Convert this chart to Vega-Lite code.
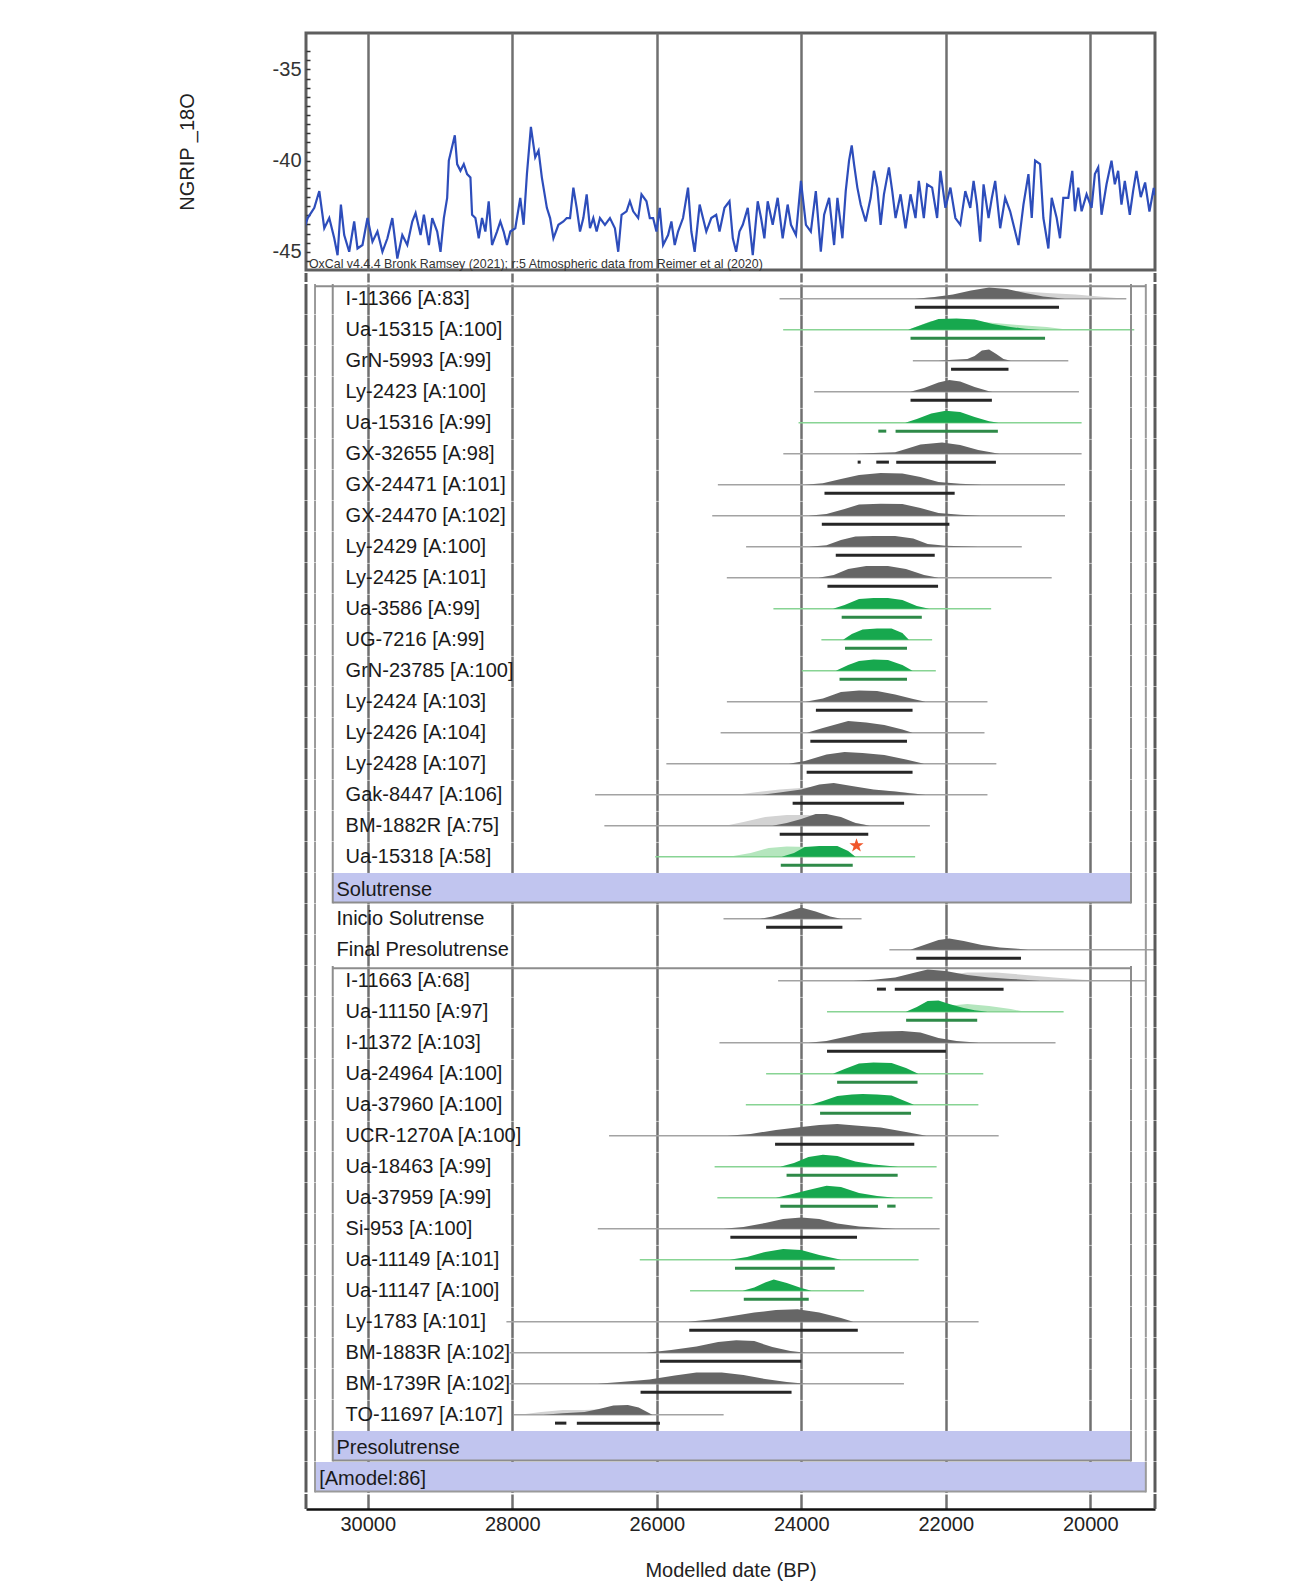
{
"$schema": "https://vega.github.io/schema/vega-lite/v6.json",
"background": "white",
"padding": {"left": 175, "top": 31, "right": 10, "bottom": 60},
"spacing": -3,
"config": {
  "view": {"stroke": null},
  "font": "Liberation Sans",
  "axisX": {"grid": true, "labels": false, "ticks": false, "domain": false, "tickCount": 6, "gridColor": "#707070", "gridWidth": 2.5, "zindex": 1}
},
"vconcat": [
{
 "width": 849, "height": 237,
 "view": {"stroke": "#5e5e5e", "strokeWidth": 3},
 "layer": [
  {"data": {"values": [
{"date":30869,"d18O":-43.6},{"date":30832,"d18O":-43.15},{"date":30740,"d18O":-42.59},{"date":30671,"d18O":-41.67},{"date":30602,"d18O":-43.71},{"date":30533,"d18O":-43.15},{"date":30464,"d18O":-44.26},{"date":30418,"d18O":-45.19},{"date":30372,"d18O":-42.41},{"date":30326,"d18O":-44.08},{"date":30257,"d18O":-45.0},{"date":30188,"d18O":-43.34},{"date":30142,"d18O":-44.82},{"date":30073,"d18O":-44.63},{"date":30004,"d18O":-43.15},{"date":29935,"d18O":-44.45},{"date":29866,"d18O":-43.89},{"date":29797,"d18O":-45.0},{"date":29728,"d18O":-44.26},{"date":29660,"d18O":-43.15},{"date":29591,"d18O":-45.37},{"date":29522,"d18O":-44.08},{"date":29453,"d18O":-44.63},{"date":29384,"d18O":-43.34},{"date":29338,"d18O":-42.87},{"date":29269,"d18O":-44.08},{"date":29223,"d18O":-42.97},{"date":29154,"d18O":-44.63},{"date":29108,"d18O":-43.15},{"date":29039,"d18O":-43.89},{"date":28993,"d18O":-45.0},{"date":28947,"d18O":-43.15},{"date":28901,"d18O":-42.04},{"date":28878,"d18O":-40.0},{"date":28795,"d18O":-38.61},{"date":28763,"d18O":-40.19},{"date":28717,"d18O":-40.56},{"date":28671,"d18O":-40.19},{"date":28625,"d18O":-40.74},{"date":28579,"d18O":-40.93},{"date":28556,"d18O":-42.97},{"date":28510,"d18O":-43.15},{"date":28464,"d18O":-44.26},{"date":28418,"d18O":-43.15},{"date":28372,"d18O":-43.89},{"date":28326,"d18O":-42.23},{"date":28280,"d18O":-44.63},{"date":28211,"d18O":-43.89},{"date":28165,"d18O":-43.34},{"date":28119,"d18O":-43.89},{"date":28073,"d18O":-44.63},{"date":28027,"d18O":-43.89},{"date":27958,"d18O":-43.71},{"date":27889,"d18O":-42.04},{"date":27843,"d18O":-43.52},{"date":27797,"d18O":-40.74},{"date":27742,"d18O":-38.15},{"date":27682,"d18O":-39.82},{"date":27636,"d18O":-39.45},{"date":27590,"d18O":-40.93},{"date":27521,"d18O":-42.59},{"date":27476,"d18O":-43.15},{"date":27430,"d18O":-44.26},{"date":27361,"d18O":-43.52},{"date":27292,"d18O":-43.34},{"date":27246,"d18O":-43.15},{"date":27200,"d18O":-43.15},{"date":27154,"d18O":-41.48},{"date":27108,"d18O":-42.59},{"date":27062,"d18O":-43.89},{"date":27016,"d18O":-43.15},{"date":26970,"d18O":-41.85},{"date":26924,"d18O":-43.71},{"date":26878,"d18O":-43.15},{"date":26832,"d18O":-43.89},{"date":26786,"d18O":-43.15},{"date":26717,"d18O":-43.52},{"date":26648,"d18O":-43.15},{"date":26579,"d18O":-43.71},{"date":26533,"d18O":-45.0},{"date":26487,"d18O":-42.97},{"date":26418,"d18O":-42.78},{"date":26372,"d18O":-42.23},{"date":26326,"d18O":-42.78},{"date":26257,"d18O":-43.15},{"date":26211,"d18O":-41.85},{"date":26142,"d18O":-42.23},{"date":26096,"d18O":-43.15},{"date":26050,"d18O":-43.15},{"date":26004,"d18O":-43.89},{"date":25958,"d18O":-42.59},{"date":25912,"d18O":-44.63},{"date":25843,"d18O":-44.08},{"date":25797,"d18O":-43.34},{"date":25751,"d18O":-44.63},{"date":25705,"d18O":-43.89},{"date":25636,"d18O":-43.15},{"date":25567,"d18O":-41.48},{"date":25521,"d18O":-43.89},{"date":25475,"d18O":-45.0},{"date":25406,"d18O":-42.41},{"date":25360,"d18O":-43.15},{"date":25314,"d18O":-43.89},{"date":25245,"d18O":-43.15},{"date":25177,"d18O":-42.97},
{"date":25131,"d18O":-43.89},{"date":25062,"d18O":-42.59},{"date":24993,"d18O":-42.23},{"date":24947,"d18O":-44.26},{"date":24901,"d18O":-45.0},{"date":24855,"d18O":-43.89},{"date":24809,"d18O":-43.52},{"date":24740,"d18O":-42.59},{"date":24671,"d18O":-45.19},{"date":24602,"d18O":-42.23},{"date":24556,"d18O":-43.15},{"date":24510,"d18O":-44.26},{"date":24464,"d18O":-42.23},{"date":24395,"d18O":-43.52},{"date":24326,"d18O":-42.04},{"date":24257,"d18O":-44.26},{"date":24188,"d18O":-42.41},{"date":24142,"d18O":-43.52},{"date":24073,"d18O":-44.08},{"date":24004,"d18O":-41.11},{"date":23935,"d18O":-43.52},{"date":23867,"d18O":-43.89},{"date":23798,"d18O":-41.67},{"date":23729,"d18O":-45.0},{"date":23683,"d18O":-42.97},{"date":23614,"d18O":-42.04},{"date":23545,"d18O":-44.63},{"date":23499,"d18O":-42.04},{"date":23430,"d18O":-44.26},{"date":23384,"d18O":-41.67},{"date":23338,"d18O":-40.0},{"date":23301,"d18O":-39.17},{"date":23269,"d18O":-40.19},{"date":23223,"d18O":-41.48},{"date":23177,"d18O":-42.41},{"date":23108,"d18O":-43.34},{"date":23039,"d18O":-42.04},{"date":22993,"d18O":-40.56},{"date":22947,"d18O":-41.48},{"date":22901,"d18O":-43.52},{"date":22855,"d18O":-41.85},{"date":22786,"d18O":-40.37},{"date":22740,"d18O":-41.67},{"date":22694,"d18O":-43.15},{"date":22625,"d18O":-41.85},{"date":22556,"d18O":-43.71},{"date":22487,"d18O":-41.85},{"date":22418,"d18O":-43.15},{"date":22372,"d18O":-41.11},{"date":22303,"d18O":-43.15},{"date":22257,"d18O":-41.3},{"date":22188,"d18O":-41.48},{"date":22119,"d18O":-43.15},{"date":22073,"d18O":-40.56},{"date":22004,"d18O":-42.59},{"date":21935,"d18O":-41.48},{"date":21866,"d18O":-43.15},{"date":21798,"d18O":-43.52},{"date":21729,"d18O":-41.67},{"date":21660,"d18O":-42.59},{"date":21614,"d18O":-41.11},{"date":21568,"d18O":-42.41},{"date":21522,"d18O":-44.45},{"date":21476,"d18O":-41.3},{"date":21407,"d18O":-43.15},{"date":21361,"d18O":-42.04},{"date":21315,"d18O":-41.11},{"date":21246,"d18O":-43.71},{"date":21177,"d18O":-42.04},{"date":21108,"d18O":-42.78},{"date":21039,"d18O":-43.89},{"date":20993,"d18O":-44.63},{"date":20924,"d18O":-42.41},{"date":20855,"d18O":-40.74},{"date":20809,"d18O":-43.15},{"date":20763,"d18O":-40.0},{"date":20694,"d18O":-40.19},{"date":20648,"d18O":-43.15},{"date":20579,"d18O":-44.82},{"date":20533,"d18O":-42.04},{"date":20464,"d18O":-43.15},{"date":20418,"d18O":-44.26},{"date":20372,"d18O":-42.04},{"date":20303,"d18O":-42.04},{"date":20248,"d18O":-40.56},{"date":20211,"d18O":-42.78},{"date":20165,"d18O":-41.48},{"date":20119,"d18O":-42.78},{"date":20050,"d18O":-41.85},{"date":19981,"d18O":-42.59},{"date":19935,"d18O":-40.74},{"date":19889,"d18O":-40.37},{"date":19843,"d18O":-42.97},{"date":19774,"d18O":-41.3},{"date":19705,"d18O":-40.0},{"date":19659,"d18O":-41.3},{"date":19613,"d18O":-40.56},{"date":19567,"d18O":-42.41},{"date":19521,"d18O":-41.11},{"date":19452,"d18O":-42.97},{"date":19406,"d18O":-41.67},{"date":19360,"d18O":-40.56},{"date":19300,"d18O":-42.0},{"date":19240,"d18O":-41.2},{"date":19180,"d18O":-42.8},{"date":19120,"d18O":-41.5},{"date":19103,"d18O":-41.9}
  ]},
   "mark": {"type": "line", "color": "#2d4dbb", "strokeWidth": 2.2, "clip": true},
   "encoding": {
     "x": {"field": "date", "type": "quantitative", "scale": {"domain": [19103, 30855], "reverse": true, "nice": false, "zero": false}, "title": null},
     "y": {"field": "d18O", "type": "quantitative", "scale": {"domain": [-46, -33], "nice": false, "zero": false}, "title": "NGRIP _18O",
       "axis": {"values": [-45.5,-45,-44.5,-44,-43.5,-43,-42.5,-42,-41.5,-41,-40.5,-40,-39.5,-39,-38.5,-38,-37.5,-37,-36.5,-36,-35.5,-35,-34.5,-34],
        "labelExpr": "datum.value % 5 === 0 ? '' + datum.value : ''", "ticks": true, "tickSize": -4, "tickColor": "#333", "tickWidth": 1.5, "domain": false, "grid": false,
        "labelFontSize": 20, "labelColor": "#333", "labelPadding": 9, "labelOverlap": false, "labelFlush": false,
        "titleFontSize": 20, "titleFontWeight": "normal", "titleColor": "#222", "titlePadding": 75}}
   }},
  {"data": {"values": [{"date": 30814, "d18O": -45.67, "note": "OxCal v4.4.4 Bronk Ramsey (2021); r:5 Atmospheric data from Reimer et al (2020)"}]},
   "mark": {"type": "text", "align": "left", "baseline": "middle", "fontSize": 12.4, "color": "#333"},
   "encoding": {
     "x": {"field": "date", "type": "quantitative", "scale": {"domain": [19103, 30855], "reverse": true, "nice": false, "zero": false}, "title": null},
     "y": {"field": "d18O", "type": "quantitative", "scale": {"domain": [-46, -33], "nice": false, "zero": false}, "title": "NGRIP _18O",
       "axis": {"values": [-45.5,-45,-44.5,-44,-43.5,-43,-42.5,-42,-41.5,-41,-40.5,-40,-39.5,-39,-38.5,-38,-37.5,-37,-36.5,-36,-35.5,-35,-34.5,-34],
        "labelExpr": "datum.value % 5 === 0 ? '' + datum.value : ''", "ticks": true, "tickSize": -4, "tickColor": "#333", "tickWidth": 1.5, "domain": false, "grid": false,
        "labelFontSize": 20, "labelColor": "#333", "labelPadding": 9, "labelOverlap": false, "labelFlush": false,
        "titleFontSize": 20, "titleFontWeight": "normal", "titleColor": "#222", "titlePadding": 75}},
     "text": {"field": "note"}
   }}
 ]
},
{
 "width": 849, "height": 9,
 "data": {"values": [{"k": 1}]},
 "layer": [
  {"mark": {"type": "rule", "color": "#5a5a5a", "strokeWidth": 3}, "encoding": {"x": {"datum": 30855, "type": "quantitative", "scale": {"domain": [19103, 30855], "reverse": true, "nice": false, "zero": false}, "title": null}}},
  {"mark": {"type": "rule", "color": "#5a5a5a", "strokeWidth": 3}, "encoding": {"x": {"datum": 19103, "type": "quantitative", "scale": {"domain": [19103, 30855], "reverse": true, "nice": false, "zero": false}, "title": null}}}
 ]
},
{
 "bounds": "flush",
 "data": {"values": [
{"row":1,"kind":"label","type":"date","group":"Solutrense","label":"I-11366 [A:83]"},
{"row":1,"kind":"range","grp":"g","date":24300,"date2":19500},
{"row":1,"kind":"q","grp":"g","date":22400,"d":0},{"row":1,"kind":"q","grp":"g","date":21900,"d":0.4},{"row":1,"kind":"q","grp":"g","date":21400,"d":0.9},{"row":1,"kind":"q","grp":"g","date":21000,"d":0.8},{"row":1,"kind":"q","grp":"g","date":20600,"d":0.6},{"row":1,"kind":"q","grp":"g","date":20200,"d":0.45},{"row":1,"kind":"q","grp":"g","date":19800,"d":0.2},{"row":1,"kind":"q","grp":"g","date":19500,"d":0},
{"row":1,"kind":"p","grp":"g","date":22420,"d":0},{"row":1,"kind":"p","grp":"g","date":22150,"d":0.2},{"row":1,"kind":"p","grp":"g","date":21900,"d":0.45},{"row":1,"kind":"p","grp":"g","date":21650,"d":0.85},{"row":1,"kind":"p","grp":"g","date":21400,"d":1.15},{"row":1,"kind":"p","grp":"g","date":21150,"d":1.0},{"row":1,"kind":"p","grp":"g","date":20900,"d":0.6},{"row":1,"kind":"p","grp":"g","date":20650,"d":0.25},{"row":1,"kind":"p","grp":"g","date":20350,"d":0},
{"row":1,"kind":"bar","grp":"g","date":22427,"date2":20432},

{"row":2,"kind":"label","type":"date","group":"Solutrense","label":"Ua-15315 [A:100]"},
{"row":2,"kind":"range","grp":"c","date":24250,"date2":19390},
{"row":2,"kind":"q","grp":"c","date":22520,"d":0},{"row":2,"kind":"q","grp":"c","date":22200,"d":0.9},{"row":2,"kind":"q","grp":"c","date":21800,"d":1.0},{"row":2,"kind":"q","grp":"c","date":21400,"d":0.75},{"row":2,"kind":"q","grp":"c","date":21000,"d":0.5},{"row":2,"kind":"q","grp":"c","date":20600,"d":0.3},{"row":2,"kind":"q","grp":"c","date":20300,"d":0},
{"row":2,"kind":"p","grp":"c","date":22520,"d":0},{"row":2,"kind":"p","grp":"c","date":22300,"d":0.6},{"row":2,"kind":"p","grp":"c","date":22100,"d":1.1},{"row":2,"kind":"p","grp":"c","date":21850,"d":1.15},{"row":2,"kind":"p","grp":"c","date":21600,"d":1.05},{"row":2,"kind":"p","grp":"c","date":21350,"d":0.6},{"row":2,"kind":"p","grp":"c","date":21100,"d":0.3},{"row":2,"kind":"p","grp":"c","date":20900,"d":0.1},{"row":2,"kind":"p","grp":"c","date":20700,"d":0},
{"row":2,"kind":"bar","grp":"c","date":22487,"date2":20625},

{"row":3,"kind":"label","type":"date","group":"Solutrense","label":"GrN-5993 [A:99]"},
{"row":3,"kind":"range","grp":"g","date":22455,"date2":20303},
{"row":3,"kind":"p","grp":"g","date":22100,"d":0},{"row":3,"kind":"p","grp":"g","date":21900,"d":0.12},{"row":3,"kind":"p","grp":"g","date":21700,"d":0.2},{"row":3,"kind":"p","grp":"g","date":21600,"d":0.5},{"row":3,"kind":"p","grp":"g","date":21500,"d":1.05},{"row":3,"kind":"p","grp":"g","date":21400,"d":1.15},{"row":3,"kind":"p","grp":"g","date":21300,"d":0.7},{"row":3,"kind":"p","grp":"g","date":21200,"d":0.2},{"row":3,"kind":"p","grp":"g","date":21100,"d":0},
{"row":3,"kind":"bar","grp":"g","date":21926,"date2":21131},

{"row":4,"kind":"label","type":"date","group":"Solutrense","label":"Ly-2423 [A:100]"},
{"row":4,"kind":"range","grp":"g","date":23821,"date2":20156},
{"row":4,"kind":"p","grp":"g","date":22490,"d":0},{"row":4,"kind":"p","grp":"g","date":22300,"d":0.4},{"row":4,"kind":"p","grp":"g","date":22100,"d":0.95},{"row":4,"kind":"p","grp":"g","date":21950,"d":1.2},{"row":4,"kind":"p","grp":"g","date":21800,"d":1.05},{"row":4,"kind":"p","grp":"g","date":21600,"d":0.5},{"row":4,"kind":"p","grp":"g","date":21400,"d":0.05},{"row":4,"kind":"p","grp":"g","date":21350,"d":0},
{"row":4,"kind":"bar","grp":"g","date":22487,"date2":21361},

{"row":5,"kind":"label","type":"date","group":"Solutrense","label":"Ua-15316 [A:99]"},
{"row":5,"kind":"range","grp":"c","date":24037,"date2":20119},
{"row":5,"kind":"p","grp":"c","date":22560,"d":0},{"row":5,"kind":"p","grp":"c","date":22400,"d":0.4},{"row":5,"kind":"p","grp":"c","date":22200,"d":0.95},{"row":5,"kind":"p","grp":"c","date":22000,"d":1.25},{"row":5,"kind":"p","grp":"c","date":21800,"d":1.1},{"row":5,"kind":"p","grp":"c","date":21600,"d":0.6},{"row":5,"kind":"p","grp":"c","date":21400,"d":0.15},{"row":5,"kind":"p","grp":"c","date":21270,"d":0},
{"row":5,"kind":"bar","grp":"c","date":22933,"date2":22823},{"row":5,"kind":"bar","grp":"c","date":22694,"date2":21278},

{"row":6,"kind":"label","type":"date","group":"Solutrense","label":"GX-32655 [A:98]"},
{"row":6,"kind":"range","grp":"g","date":24248,"date2":20119},
{"row":6,"kind":"p","grp":"g","date":23250,"d":0},{"row":6,"kind":"p","grp":"g","date":23000,"d":0.08},{"row":6,"kind":"p","grp":"g","date":22700,"d":0.15},{"row":6,"kind":"p","grp":"g","date":22550,"d":0.5},{"row":6,"kind":"p","grp":"g","date":22350,"d":0.95},{"row":6,"kind":"p","grp":"g","date":22050,"d":1.15},{"row":6,"kind":"p","grp":"g","date":21800,"d":0.9},{"row":6,"kind":"p","grp":"g","date":21550,"d":0.4},{"row":6,"kind":"p","grp":"g","date":21300,"d":0.05},{"row":6,"kind":"p","grp":"g","date":21250,"d":0},
{"row":6,"kind":"bar","grp":"g","date":23219,"date2":23177},{"row":6,"kind":"bar","grp":"g","date":22961,"date2":22786},{"row":6,"kind":"bar","grp":"g","date":22685,"date2":21305},

{"row":7,"kind":"label","type":"date","group":"Solutrense","label":"GX-24471 [A:101]"},
{"row":7,"kind":"range","grp":"g","date":25154,"date2":20349},
{"row":7,"kind":"p","grp":"g","date":23950,"d":0},{"row":7,"kind":"p","grp":"g","date":23700,"d":0.15},{"row":7,"kind":"p","grp":"g","date":23450,"d":0.6},{"row":7,"kind":"p","grp":"g","date":23200,"d":1.0},{"row":7,"kind":"p","grp":"g","date":22900,"d":1.2},{"row":7,"kind":"p","grp":"g","date":22600,"d":1.15},{"row":7,"kind":"p","grp":"g","date":22350,"d":0.8},{"row":7,"kind":"p","grp":"g","date":22100,"d":0.3},{"row":7,"kind":"p","grp":"g","date":21800,"d":0.1},{"row":7,"kind":"p","grp":"g","date":21500,"d":0},
{"row":7,"kind":"bar","grp":"g","date":23678,"date2":21876},

{"row":8,"kind":"label","type":"date","group":"Solutrense","label":"GX-24470 [A:102]"},
{"row":8,"kind":"range","grp":"g","date":25232,"date2":20349},
{"row":8,"kind":"p","grp":"g","date":23900,"d":0},{"row":8,"kind":"p","grp":"g","date":23650,"d":0.2},{"row":8,"kind":"p","grp":"g","date":23400,"d":0.7},{"row":8,"kind":"p","grp":"g","date":23200,"d":1.15},{"row":8,"kind":"p","grp":"g","date":22900,"d":1.25},{"row":8,"kind":"p","grp":"g","date":22600,"d":1.2},{"row":8,"kind":"p","grp":"g","date":22350,"d":0.8},{"row":8,"kind":"p","grp":"g","date":22100,"d":0.3},{"row":8,"kind":"p","grp":"g","date":21800,"d":0.1},{"row":8,"kind":"p","grp":"g","date":21520,"d":0},
{"row":8,"kind":"bar","grp":"g","date":23715,"date2":21949},

{"row":9,"kind":"label","type":"date","group":"Solutrense","label":"Ly-2429 [A:100]"},
{"row":9,"kind":"range","grp":"g","date":24763,"date2":20947},
{"row":9,"kind":"p","grp":"g","date":23890,"d":0},{"row":9,"kind":"p","grp":"g","date":23650,"d":0.15},{"row":9,"kind":"p","grp":"g","date":23450,"d":0.7},{"row":9,"kind":"p","grp":"g","date":23250,"d":1.05},{"row":9,"kind":"p","grp":"g","date":23000,"d":1.1},{"row":9,"kind":"p","grp":"g","date":22700,"d":1.1},{"row":9,"kind":"p","grp":"g","date":22450,"d":0.85},{"row":9,"kind":"p","grp":"g","date":22250,"d":0.3},{"row":9,"kind":"p","grp":"g","date":22000,"d":0.1},{"row":9,"kind":"p","grp":"g","date":21550,"d":0},
{"row":9,"kind":"bar","grp":"g","date":23522,"date2":22152},

{"row":10,"kind":"label","type":"date","group":"Solutrense","label":"Ly-2425 [A:101]"},
{"row":10,"kind":"range","grp":"g","date":25030,"date2":20533},
{"row":10,"kind":"p","grp":"g","date":23760,"d":0},{"row":10,"kind":"p","grp":"g","date":23550,"d":0.3},{"row":10,"kind":"p","grp":"g","date":23350,"d":0.9},{"row":10,"kind":"p","grp":"g","date":23100,"d":1.2},{"row":10,"kind":"p","grp":"g","date":22800,"d":1.2},{"row":10,"kind":"p","grp":"g","date":22550,"d":0.9},{"row":10,"kind":"p","grp":"g","date":22300,"d":0.3},{"row":10,"kind":"p","grp":"g","date":22100,"d":0},
{"row":10,"kind":"bar","grp":"g","date":23637,"date2":22106},

{"row":11,"kind":"label","type":"date","group":"Solutrense","label":"Ua-3586 [A:99]"},
{"row":11,"kind":"range","grp":"c","date":24385,"date2":21371},
{"row":11,"kind":"p","grp":"c","date":23560,"d":0},{"row":11,"kind":"p","grp":"c","date":23400,"d":0.4},{"row":11,"kind":"p","grp":"c","date":23200,"d":1.0},{"row":11,"kind":"p","grp":"c","date":23000,"d":1.1},{"row":11,"kind":"p","grp":"c","date":22800,"d":1.1},{"row":11,"kind":"p","grp":"c","date":22600,"d":0.9},{"row":11,"kind":"p","grp":"c","date":22400,"d":0.3},{"row":11,"kind":"p","grp":"c","date":22230,"d":0},
{"row":11,"kind":"bar","grp":"c","date":23440,"date2":22331},

{"row":12,"kind":"label","type":"date","group":"Solutrense","label":"UG-7216 [A:99]"},
{"row":12,"kind":"range","grp":"c","date":23721,"date2":22188},
{"row":12,"kind":"p","grp":"c","date":23420,"d":0},{"row":12,"kind":"p","grp":"c","date":23300,"d":0.6},{"row":12,"kind":"p","grp":"c","date":23150,"d":1.05},{"row":12,"kind":"p","grp":"c","date":22950,"d":1.15},{"row":12,"kind":"p","grp":"c","date":22750,"d":1.15},{"row":12,"kind":"p","grp":"c","date":22600,"d":0.7},{"row":12,"kind":"p","grp":"c","date":22510,"d":0},
{"row":12,"kind":"bar","grp":"c","date":23394,"date2":22536},

{"row":13,"kind":"label","type":"date","group":"Solutrense","label":"GrN-23785 [A:100]"},
{"row":13,"kind":"range","grp":"c","date":23992,"date2":22137},
{"row":13,"kind":"p","grp":"c","date":23520,"d":0},{"row":13,"kind":"p","grp":"c","date":23350,"d":0.6},{"row":13,"kind":"p","grp":"c","date":23200,"d":1.0},{"row":13,"kind":"p","grp":"c","date":23000,"d":1.15},{"row":13,"kind":"p","grp":"c","date":22800,"d":1.1},{"row":13,"kind":"p","grp":"c","date":22600,"d":0.6},{"row":13,"kind":"p","grp":"c","date":22460,"d":0},
{"row":13,"kind":"bar","grp":"c","date":23470,"date2":22536},

{"row":14,"kind":"label","type":"date","group":"Solutrense","label":"Ly-2424 [A:103]"},
{"row":14,"kind":"range","grp":"g","date":25029,"date2":21422},
{"row":14,"kind":"p","grp":"g","date":23940,"d":0},{"row":14,"kind":"p","grp":"g","date":23700,"d":0.35},{"row":14,"kind":"p","grp":"g","date":23450,"d":1.0},{"row":14,"kind":"p","grp":"g","date":23200,"d":1.15},{"row":14,"kind":"p","grp":"g","date":22950,"d":1.1},{"row":14,"kind":"p","grp":"g","date":22700,"d":0.75},{"row":14,"kind":"p","grp":"g","date":22450,"d":0.3},{"row":14,"kind":"p","grp":"g","date":22280,"d":0},
{"row":14,"kind":"bar","grp":"g","date":23797,"date2":22459},

{"row":15,"kind":"label","type":"date","group":"Solutrense","label":"Ly-2426 [A:104]"},
{"row":15,"kind":"range","grp":"g","date":25116,"date2":21463},
{"row":15,"kind":"p","grp":"g","date":23920,"d":0},{"row":15,"kind":"p","grp":"g","date":23700,"d":0.5},{"row":15,"kind":"p","grp":"g","date":23450,"d":1.0},{"row":15,"kind":"p","grp":"g","date":23350,"d":1.2},{"row":15,"kind":"p","grp":"g","date":23100,"d":1.05},{"row":15,"kind":"p","grp":"g","date":22850,"d":0.8},{"row":15,"kind":"p","grp":"g","date":22600,"d":0.35},{"row":15,"kind":"p","grp":"g","date":22460,"d":0},
{"row":15,"kind":"bar","grp":"g","date":23874,"date2":22536},

{"row":16,"kind":"label","type":"date","group":"Solutrense","label":"Ly-2428 [A:107]"},
{"row":16,"kind":"range","grp":"g","date":25867,"date2":21299},
{"row":16,"kind":"p","grp":"g","date":24170,"d":0},{"row":16,"kind":"p","grp":"g","date":23950,"d":0.3},{"row":16,"kind":"p","grp":"g","date":23650,"d":0.95},{"row":16,"kind":"p","grp":"g","date":23400,"d":1.2},{"row":16,"kind":"p","grp":"g","date":23150,"d":1.1},{"row":16,"kind":"p","grp":"g","date":22850,"d":0.9},{"row":16,"kind":"p","grp":"g","date":22550,"d":0.45},{"row":16,"kind":"p","grp":"g","date":22300,"d":0},
{"row":16,"kind":"bar","grp":"g","date":23925,"date2":22459},

{"row":17,"kind":"label","type":"date","group":"Solutrense","label":"Gak-8447 [A:106]"},
{"row":17,"kind":"range","grp":"g","date":26853,"date2":21422},
{"row":17,"kind":"q","grp":"g","date":24900,"d":0},{"row":17,"kind":"q","grp":"g","date":24600,"d":0.3},{"row":17,"kind":"q","grp":"g","date":24300,"d":0.55},{"row":17,"kind":"q","grp":"g","date":24000,"d":0.7},{"row":17,"kind":"q","grp":"g","date":23700,"d":0.9},{"row":17,"kind":"q","grp":"g","date":23400,"d":0.8},{"row":17,"kind":"q","grp":"g","date":23000,"d":0.5},{"row":17,"kind":"q","grp":"g","date":22600,"d":0.3},{"row":17,"kind":"q","grp":"g","date":22300,"d":0},
{"row":17,"kind":"p","grp":"g","date":24550,"d":0},{"row":17,"kind":"p","grp":"g","date":24300,"d":0.25},{"row":17,"kind":"p","grp":"g","date":24000,"d":0.55},{"row":17,"kind":"p","grp":"g","date":23750,"d":1.05},{"row":17,"kind":"p","grp":"g","date":23550,"d":1.2},{"row":17,"kind":"p","grp":"g","date":23300,"d":0.9},{"row":17,"kind":"p","grp":"g","date":23000,"d":0.55},{"row":17,"kind":"p","grp":"g","date":22700,"d":0.35},{"row":17,"kind":"p","grp":"g","date":22500,"d":0.15},{"row":17,"kind":"p","grp":"g","date":22280,"d":0},
{"row":17,"kind":"bar","grp":"g","date":24119,"date2":22576},

{"row":18,"kind":"label","type":"date","group":"Solutrense","label":"BM-1882R [A:75]"},
{"row":18,"kind":"range","grp":"g","date":26725,"date2":22219},
{"row":18,"kind":"q","grp":"g","date":25050,"d":0},{"row":18,"kind":"q","grp":"g","date":24800,"d":0.4},{"row":18,"kind":"q","grp":"g","date":24500,"d":0.9},{"row":18,"kind":"q","grp":"g","date":24200,"d":1.1},{"row":18,"kind":"q","grp":"g","date":23900,"d":1.1},{"row":18,"kind":"q","grp":"g","date":23600,"d":0.9},{"row":18,"kind":"q","grp":"g","date":23300,"d":0.4},{"row":18,"kind":"q","grp":"g","date":23050,"d":0},
{"row":18,"kind":"p","grp":"g","date":24400,"d":0},{"row":18,"kind":"p","grp":"g","date":24200,"d":0.3},{"row":18,"kind":"p","grp":"g","date":24000,"d":0.7},{"row":18,"kind":"p","grp":"g","date":23800,"d":1.2},{"row":18,"kind":"p","grp":"g","date":23650,"d":1.2},{"row":18,"kind":"p","grp":"g","date":23450,"d":0.9},{"row":18,"kind":"p","grp":"g","date":23250,"d":0.3},{"row":18,"kind":"p","grp":"g","date":23050,"d":0},
{"row":18,"kind":"bar","grp":"g","date":24298,"date2":23072},

{"row":19,"kind":"label","type":"date","group":"Solutrense","label":"Ua-15318 [A:58]"},
{"row":19,"kind":"range","grp":"c","date":26020,"date2":22423},
{"row":19,"kind":"q","grp":"c","date":25000,"d":0},{"row":19,"kind":"q","grp":"c","date":24700,"d":0.4},{"row":19,"kind":"q","grp":"c","date":24450,"d":0.9},{"row":19,"kind":"q","grp":"c","date":24200,"d":1.05},{"row":19,"kind":"q","grp":"c","date":23900,"d":1.0},{"row":19,"kind":"q","grp":"c","date":23600,"d":0.6},{"row":19,"kind":"q","grp":"c","date":23350,"d":0.2},{"row":19,"kind":"q","grp":"c","date":23200,"d":0},
{"row":19,"kind":"p","grp":"c","date":24270,"d":0},{"row":19,"kind":"p","grp":"c","date":24100,"d":0.4},{"row":19,"kind":"p","grp":"c","date":23950,"d":1.0},{"row":19,"kind":"p","grp":"c","date":23750,"d":1.1},{"row":19,"kind":"p","grp":"c","date":23500,"d":1.1},{"row":19,"kind":"p","grp":"c","date":23350,"d":0.6},{"row":19,"kind":"p","grp":"c","date":23250,"d":0},
{"row":19,"kind":"bar","grp":"c","date":24283,"date2":23287},
{"row":19,"kind":"star","date":23235},

{"row":20,"kind":"label","type":"phase","group":"Solutrense","label":"Solutrense"},

{"row":21,"kind":"label","type":"boundary","group":"none","label":"Inicio Solutrense"},
{"row":21,"kind":"range","grp":"g","date":25076,"date2":23165},
{"row":21,"kind":"p","grp":"g","date":24570,"d":0},{"row":21,"kind":"p","grp":"g","date":24400,"d":0.25},{"row":21,"kind":"p","grp":"g","date":24200,"d":0.7},{"row":21,"kind":"p","grp":"g","date":24000,"d":1.15},{"row":21,"kind":"p","grp":"g","date":23800,"d":0.75},{"row":21,"kind":"p","grp":"g","date":23600,"d":0.25},{"row":21,"kind":"p","grp":"g","date":23450,"d":0},
{"row":21,"kind":"bar","grp":"g","date":24486,"date2":23430},

{"row":22,"kind":"label","type":"boundary","group":"none","label":"Final Presolutrense"},
{"row":22,"kind":"range","grp":"g","date":22780,"date2":19103},
{"row":22,"kind":"p","grp":"g","date":22490,"d":0},{"row":22,"kind":"p","grp":"g","date":22300,"d":0.5},{"row":22,"kind":"p","grp":"g","date":22100,"d":1.0},{"row":22,"kind":"p","grp":"g","date":21950,"d":1.15},{"row":22,"kind":"p","grp":"g","date":21750,"d":0.9},{"row":22,"kind":"p","grp":"g","date":21500,"d":0.5},{"row":22,"kind":"p","grp":"g","date":21250,"d":0.25},{"row":22,"kind":"p","grp":"g","date":21000,"d":0.1},{"row":22,"kind":"p","grp":"g","date":20860,"d":0},
{"row":22,"kind":"bar","grp":"g","date":22407,"date2":20958},

{"row":23,"kind":"label","type":"date","group":"Presolutrense","label":"I-11663 [A:68]"},
{"row":23,"kind":"range","grp":"g","date":24320,"date2":19230},
{"row":23,"kind":"q","grp":"g","date":22500,"d":0},{"row":23,"kind":"q","grp":"g","date":22100,"d":0.5},{"row":23,"kind":"q","grp":"g","date":21700,"d":0.85},{"row":23,"kind":"q","grp":"g","date":21300,"d":0.85},{"row":23,"kind":"q","grp":"g","date":20900,"d":0.6},{"row":23,"kind":"q","grp":"g","date":20500,"d":0.35},{"row":23,"kind":"q","grp":"g","date":20100,"d":0.1},{"row":23,"kind":"q","grp":"g","date":19800,"d":0},
{"row":23,"kind":"p","grp":"g","date":23280,"d":0},{"row":23,"kind":"p","grp":"g","date":23000,"d":0.1},{"row":23,"kind":"p","grp":"g","date":22700,"d":0.35},{"row":23,"kind":"p","grp":"g","date":22450,"d":0.8},{"row":23,"kind":"p","grp":"g","date":22250,"d":1.15},{"row":23,"kind":"p","grp":"g","date":22000,"d":1.0},{"row":23,"kind":"p","grp":"g","date":21700,"d":0.6},{"row":23,"kind":"p","grp":"g","date":21400,"d":0.35},{"row":23,"kind":"p","grp":"g","date":21100,"d":0.2},{"row":23,"kind":"p","grp":"g","date":20700,"d":0},
{"row":23,"kind":"bar","grp":"g","date":22952,"date2":22828},{"row":23,"kind":"bar","grp":"g","date":22705,"date2":21199},

{"row":24,"kind":"label","type":"date","group":"Presolutrense","label":"Ua-11150 [A:97]"},
{"row":24,"kind":"range","grp":"c","date":23643,"date2":20368},
{"row":24,"kind":"q","grp":"c","date":22400,"d":0},{"row":24,"kind":"q","grp":"c","date":22000,"d":0.6},{"row":24,"kind":"q","grp":"c","date":21700,"d":0.8},{"row":24,"kind":"q","grp":"c","date":21400,"d":0.6},{"row":24,"kind":"q","grp":"c","date":21100,"d":0.3},{"row":24,"kind":"q","grp":"c","date":20900,"d":0},
{"row":24,"kind":"p","grp":"c","date":22550,"d":0},{"row":24,"kind":"p","grp":"c","date":22400,"d":0.5},{"row":24,"kind":"p","grp":"c","date":22250,"d":1.1},{"row":24,"kind":"p","grp":"c","date":22100,"d":1.15},{"row":24,"kind":"p","grp":"c","date":21950,"d":0.8},{"row":24,"kind":"p","grp":"c","date":21750,"d":0.4},{"row":24,"kind":"p","grp":"c","date":21600,"d":0.15},{"row":24,"kind":"p","grp":"c","date":21420,"d":0},
{"row":24,"kind":"bar","grp":"c","date":22548,"date2":21564},

{"row":25,"kind":"label","type":"date","group":"Presolutrense","label":"I-11372 [A:103]"},
{"row":25,"kind":"range","grp":"g","date":25132,"date2":20480},
{"row":25,"kind":"p","grp":"g","date":23900,"d":0},{"row":25,"kind":"p","grp":"g","date":23650,"d":0.2},{"row":25,"kind":"p","grp":"g","date":23400,"d":0.6},{"row":25,"kind":"p","grp":"g","date":23150,"d":1.0},{"row":25,"kind":"p","grp":"g","date":22900,"d":1.15},{"row":25,"kind":"p","grp":"g","date":22600,"d":1.2},{"row":25,"kind":"p","grp":"g","date":22350,"d":1.05},{"row":25,"kind":"p","grp":"g","date":22100,"d":0.5},{"row":25,"kind":"p","grp":"g","date":21850,"d":0.2},{"row":25,"kind":"p","grp":"g","date":21540,"d":0},
{"row":25,"kind":"bar","grp":"g","date":23643,"date2":21997},

{"row":26,"kind":"label","type":"date","group":"Presolutrense","label":"Ua-24964 [A:100]"},
{"row":26,"kind":"range","grp":"c","date":24486,"date2":21480},
{"row":26,"kind":"p","grp":"c","date":23560,"d":0},{"row":26,"kind":"p","grp":"c","date":23400,"d":0.5},{"row":26,"kind":"p","grp":"c","date":23200,"d":1.05},{"row":26,"kind":"p","grp":"c","date":23000,"d":1.15},{"row":26,"kind":"p","grp":"c","date":22750,"d":1.1},{"row":26,"kind":"p","grp":"c","date":22550,"d":0.6},{"row":26,"kind":"p","grp":"c","date":22380,"d":0},
{"row":26,"kind":"bar","grp":"c","date":23503,"date2":22390},

{"row":27,"kind":"label","type":"date","group":"Presolutrense","label":"Ua-37960 [A:100]"},
{"row":27,"kind":"range","grp":"c","date":24767,"date2":21548},
{"row":27,"kind":"p","grp":"c","date":23870,"d":0},{"row":27,"kind":"p","grp":"c","date":23700,"d":0.4},{"row":27,"kind":"p","grp":"c","date":23500,"d":0.9},{"row":27,"kind":"p","grp":"c","date":23300,"d":1.05},{"row":27,"kind":"p","grp":"c","date":23150,"d":1.1},{"row":27,"kind":"p","grp":"c","date":22950,"d":1.05},{"row":27,"kind":"p","grp":"c","date":22750,"d":0.95},{"row":27,"kind":"p","grp":"c","date":22600,"d":0.5},{"row":27,"kind":"p","grp":"c","date":22440,"d":0},
{"row":27,"kind":"bar","grp":"c","date":23739,"date2":22480},

{"row":28,"kind":"label","type":"date","group":"Presolutrense","label":"UCR-1270A [A:100]"},
{"row":28,"kind":"range","grp":"g","date":26660,"date2":21267},
{"row":28,"kind":"p","grp":"g","date":25020,"d":0},{"row":28,"kind":"p","grp":"g","date":24700,"d":0.2},{"row":28,"kind":"p","grp":"g","date":24350,"d":0.6},{"row":28,"kind":"p","grp":"g","date":24000,"d":0.9},{"row":28,"kind":"p","grp":"g","date":23750,"d":1.1},{"row":28,"kind":"p","grp":"g","date":23500,"d":1.2},{"row":28,"kind":"p","grp":"g","date":23250,"d":1.05},{"row":28,"kind":"p","grp":"g","date":22900,"d":0.85},{"row":28,"kind":"p","grp":"g","date":22550,"d":0.4},{"row":28,"kind":"p","grp":"g","date":22270,"d":0},
{"row":28,"kind":"bar","grp":"g","date":24362,"date2":22435},

{"row":29,"kind":"label","type":"date","group":"Presolutrense","label":"Ua-18463 [A:99]"},
{"row":29,"kind":"range","grp":"c","date":25199,"date2":22126},
{"row":29,"kind":"p","grp":"c","date":24290,"d":0},{"row":29,"kind":"p","grp":"c","date":24100,"d":0.4},{"row":29,"kind":"p","grp":"c","date":23900,"d":1.0},{"row":29,"kind":"p","grp":"c","date":23700,"d":1.25},{"row":29,"kind":"p","grp":"c","date":23500,"d":1.1},{"row":29,"kind":"p","grp":"c","date":23250,"d":0.55},{"row":29,"kind":"p","grp":"c","date":23000,"d":0.25},{"row":29,"kind":"p","grp":"c","date":22660,"d":0},
{"row":29,"kind":"bar","grp":"c","date":24203,"date2":22665},

{"row":30,"kind":"label","type":"date","group":"Presolutrense","label":"Ua-37959 [A:99]"},
{"row":30,"kind":"range","grp":"c","date":25161,"date2":22183},
{"row":30,"kind":"p","grp":"c","date":24350,"d":0},{"row":30,"kind":"p","grp":"c","date":24150,"d":0.35},{"row":30,"kind":"p","grp":"c","date":23900,"d":0.8},{"row":30,"kind":"p","grp":"c","date":23650,"d":1.25},{"row":30,"kind":"p","grp":"c","date":23450,"d":1.1},{"row":30,"kind":"p","grp":"c","date":23200,"d":0.5},{"row":30,"kind":"p","grp":"c","date":22950,"d":0.2},{"row":30,"kind":"p","grp":"c","date":22700,"d":0},
{"row":30,"kind":"bar","grp":"c","date":24290,"date2":22938},{"row":30,"kind":"bar","grp":"c","date":22810,"date2":22694},

{"row":31,"kind":"label","type":"date","group":"Presolutrense","label":"Si-953 [A:100]"},
{"row":31,"kind":"range","grp":"g","date":26816,"date2":22084},
{"row":31,"kind":"p","grp":"g","date":25080,"d":0},{"row":31,"kind":"p","grp":"g","date":24800,"d":0.2},{"row":31,"kind":"p","grp":"g","date":24500,"d":0.6},{"row":31,"kind":"p","grp":"g","date":24250,"d":1.0},{"row":31,"kind":"p","grp":"g","date":24000,"d":1.15},{"row":31,"kind":"p","grp":"g","date":23750,"d":1.0},{"row":31,"kind":"p","grp":"g","date":23500,"d":0.55},{"row":31,"kind":"p","grp":"g","date":23200,"d":0.25},{"row":31,"kind":"p","grp":"g","date":22700,"d":0},
{"row":31,"kind":"bar","grp":"g","date":24981,"date2":23228},

{"row":32,"kind":"label","type":"date","group":"Presolutrense","label":"Ua-11149 [A:101]"},
{"row":32,"kind":"range","grp":"c","date":26235,"date2":22375},
{"row":32,"kind":"p","grp":"c","date":24990,"d":0},{"row":32,"kind":"p","grp":"c","date":24750,"d":0.3},{"row":32,"kind":"p","grp":"c","date":24500,"d":0.8},{"row":32,"kind":"p","grp":"c","date":24250,"d":1.1},{"row":32,"kind":"p","grp":"c","date":24000,"d":1.0},{"row":32,"kind":"p","grp":"c","date":23750,"d":0.5},{"row":32,"kind":"p","grp":"c","date":23450,"d":0},
{"row":32,"kind":"bar","grp":"c","date":24917,"date2":23536},

{"row":33,"kind":"label","type":"date","group":"Presolutrense","label":"Ua-11147 [A:100]"},
{"row":33,"kind":"range","grp":"c","date":25539,"date2":23130},
{"row":33,"kind":"p","grp":"c","date":24810,"d":0},{"row":33,"kind":"p","grp":"c","date":24650,"d":0.35},{"row":33,"kind":"p","grp":"c","date":24500,"d":0.85},{"row":33,"kind":"p","grp":"c","date":24380,"d":1.15},{"row":33,"kind":"p","grp":"c","date":24200,"d":0.8},{"row":33,"kind":"p","grp":"c","date":24000,"d":0.3},{"row":33,"kind":"p","grp":"c","date":23860,"d":0},
{"row":33,"kind":"bar","grp":"c","date":24795,"date2":23896},

{"row":34,"kind":"label","type":"date","group":"Presolutrense","label":"Ly-1783 [A:101]"},
{"row":34,"kind":"range","grp":"g","date":28081,"date2":21545},
{"row":34,"kind":"p","grp":"g","date":25570,"d":0},{"row":34,"kind":"p","grp":"g","date":25250,"d":0.25},{"row":34,"kind":"p","grp":"g","date":24950,"d":0.6},{"row":34,"kind":"p","grp":"g","date":24650,"d":0.95},{"row":34,"kind":"p","grp":"g","date":24350,"d":1.2},{"row":34,"kind":"p","grp":"g","date":24050,"d":1.3},{"row":34,"kind":"p","grp":"g","date":23750,"d":0.95},{"row":34,"kind":"p","grp":"g","date":23450,"d":0.4},{"row":34,"kind":"p","grp":"g","date":23280,"d":0},
{"row":34,"kind":"bar","grp":"g","date":25550,"date2":23217},

{"row":35,"kind":"label","type":"date","group":"Presolutrense","label":"BM-1883R [A:102]"},
{"row":35,"kind":"range","grp":"g","date":28035,"date2":22578},
{"row":35,"kind":"p","grp":"g","date":26150,"d":0},{"row":35,"kind":"p","grp":"g","date":25800,"d":0.3},{"row":35,"kind":"p","grp":"g","date":25450,"d":0.65},{"row":35,"kind":"p","grp":"g","date":25150,"d":1.1},{"row":35,"kind":"p","grp":"g","date":24900,"d":1.3},{"row":35,"kind":"p","grp":"g","date":24650,"d":1.2},{"row":35,"kind":"p","grp":"g","date":24400,"d":0.6},{"row":35,"kind":"p","grp":"g","date":24150,"d":0.2},{"row":35,"kind":"p","grp":"g","date":23940,"d":0},
{"row":35,"kind":"bar","grp":"g","date":25956,"date2":23999},

{"row":36,"kind":"label","type":"date","group":"Presolutrense","label":"BM-1739R [A:102]"},
{"row":36,"kind":"range","grp":"g","date":28035,"date2":22578},
{"row":36,"kind":"p","grp":"g","date":26820,"d":0},{"row":36,"kind":"p","grp":"g","date":26500,"d":0.2},{"row":36,"kind":"p","grp":"g","date":26100,"d":0.45},{"row":36,"kind":"p","grp":"g","date":25750,"d":0.85},{"row":36,"kind":"p","grp":"g","date":25450,"d":1.15},{"row":36,"kind":"p","grp":"g","date":25100,"d":1.15},{"row":36,"kind":"p","grp":"g","date":24800,"d":0.9},{"row":36,"kind":"p","grp":"g","date":24500,"d":0.5},{"row":36,"kind":"p","grp":"g","date":24200,"d":0.2},{"row":36,"kind":"p","grp":"g","date":23940,"d":0},
{"row":36,"kind":"bar","grp":"g","date":26224,"date2":24134},

{"row":37,"kind":"label","type":"date","group":"Presolutrense","label":"TO-11697 [A:107]"},
{"row":37,"kind":"range","grp":"g","date":27977,"date2":25074},
{"row":37,"kind":"q","grp":"g","date":27900,"d":0},{"row":37,"kind":"q","grp":"g","date":27600,"d":0.3},{"row":37,"kind":"q","grp":"g","date":27300,"d":0.5},{"row":37,"kind":"q","grp":"g","date":27000,"d":0.5},{"row":37,"kind":"q","grp":"g","date":26700,"d":0.6},{"row":37,"kind":"q","grp":"g","date":26400,"d":0.2},{"row":37,"kind":"q","grp":"g","date":26200,"d":0},
{"row":37,"kind":"p","grp":"g","date":27570,"d":0},{"row":37,"kind":"p","grp":"g","date":27300,"d":0.15},{"row":37,"kind":"p","grp":"g","date":27000,"d":0.3},{"row":37,"kind":"p","grp":"g","date":26800,"d":0.6},{"row":37,"kind":"p","grp":"g","date":26600,"d":0.95},{"row":37,"kind":"p","grp":"g","date":26400,"d":1.0},{"row":37,"kind":"p","grp":"g","date":26250,"d":0.75},{"row":37,"kind":"p","grp":"g","date":26100,"d":0.15},{"row":37,"kind":"p","grp":"g","date":26060,"d":0},
{"row":37,"kind":"bar","grp":"g","date":27408,"date2":27251},{"row":37,"kind":"bar","grp":"g","date":27106,"date2":25956},

{"row":38,"kind":"label","type":"phase","group":"Presolutrense","label":"Presolutrense"},
{"row":39,"kind":"label","type":"model","group":"none","label":"[Amodel:86]"}
 ]},
 "facet": {"row": {"field": "row", "type": "ordinal", "header": null}},
 "spacing": 0,
 "spec": {
  "width": 849, "height": 30.45,
  "layer": [
   {"transform": [{"filter": "datum.kind === 'label' && datum.type === 'phase'"}],
    "mark": {"type": "rect", "color": "#c1c5ef"},
    "encoding": {"x": {"datum": 30485, "type": "quantitative", "scale": {"domain": [19103, 30855], "reverse": true, "nice": false, "zero": false}, "title": null}, "x2": {"datum": 19435},
                 "y": {"datum": 1.52, "type": "quantitative", "scale": {"domain": [-1.6, 1.52], "nice": false, "zero": false}, "axis": null}, "y2": {"datum": -1.5}}},
   {"transform": [{"filter": "datum.kind === 'label' && datum.type === 'model'"}],
    "mark": {"type": "rect", "color": "#c1c5ef"},
    "encoding": {"x": {"datum": 30730, "type": "quantitative", "scale": {"domain": [19103, 30855], "reverse": true, "nice": false, "zero": false}, "title": null}, "x2": {"datum": 19230},
                 "y": {"datum": 1.52, "type": "quantitative", "scale": {"domain": [-1.6, 1.52], "nice": false, "zero": false}, "axis": null}, "y2": {"datum": -1.5}}},
   {"transform": [{"filter": "datum.kind === 'q'"}],
    "mark": {"type": "area"},
    "encoding": {"x": {"field": "date", "type": "quantitative", "scale": {"domain": [19103, 30855], "reverse": true, "nice": false, "zero": false}, "title": null},
                 "y": {"field": "d", "type": "quantitative", "scale": {"domain": [-1.6, 1.52], "nice": false, "zero": false}, "axis": null}, "y2": {"datum": 0},
                 "color": {"condition": {"test": "datum.grp === 'c'", "value": "#b5e6be"}, "value": "#d3d3d3"}}},
   {"transform": [{"filter": "datum.kind === 'range'"}],
    "mark": {"type": "rule", "strokeWidth": 1.5},
    "encoding": {"x": {"field": "date", "type": "quantitative", "scale": {"domain": [19103, 30855], "reverse": true, "nice": false, "zero": false}, "title": null}, "x2": {"field": "date2"},
                 "y": {"datum": 0, "type": "quantitative", "scale": {"domain": [-1.6, 1.52], "nice": false, "zero": false}, "axis": null},
                 "color": {"condition": {"test": "datum.grp === 'c'", "value": "#88d494"}, "value": "#a3a3a3"}}},
   {"transform": [{"filter": "datum.kind === 'p'"}],
    "mark": {"type": "area"},
    "encoding": {"x": {"field": "date", "type": "quantitative", "scale": {"domain": [19103, 30855], "reverse": true, "nice": false, "zero": false}, "title": null},
                 "y": {"field": "d", "type": "quantitative", "scale": {"domain": [-1.6, 1.52], "nice": false, "zero": false}, "axis": null}, "y2": {"datum": 0},
                 "color": {"condition": {"test": "datum.grp === 'c'", "value": "#17a84e"}, "value": "#666666"}}},
   {"transform": [{"filter": "datum.kind === 'bar'"}],
    "mark": {"type": "rule", "strokeWidth": 3},
    "encoding": {"x": {"field": "date", "type": "quantitative", "scale": {"domain": [19103, 30855], "reverse": true, "nice": false, "zero": false}, "title": null}, "x2": {"field": "date2"},
                 "y": {"datum": -0.85, "type": "quantitative", "scale": {"domain": [-1.6, 1.52], "nice": false, "zero": false}, "axis": null},
                 "color": {"condition": {"test": "datum.grp === 'c'", "value": "#2e8a48"}, "value": "#262626"}}},
   {"transform": [{"filter": "datum.kind === 'star'"}],
    "mark": {"type": "point", "filled": true, "size": 220, "color": "#f0562a", "opacity": 1, "shape": "M0,-1L0.235,-0.324L0.951,-0.309L0.38,0.124L0.588,0.809L0,0.4L-0.588,0.809L-0.38,0.124L-0.951,-0.309L-0.235,-0.324Z"},
    "encoding": {"x": {"field": "date", "type": "quantitative", "scale": {"domain": [19103, 30855], "reverse": true, "nice": false, "zero": false}, "title": null},
                 "y": {"datum": 1.15, "type": "quantitative", "scale": {"domain": [-1.6, 1.52], "nice": false, "zero": false}, "axis": null}}},
   {"transform": [{"filter": "datum.kind === 'label' && datum.type === 'date'"}],
    "mark": {"type": "text", "align": "left", "baseline": "middle", "fontSize": 20, "color": "#1a1a1a"},
    "encoding": {"x": {"datum": 30307, "type": "quantitative", "scale": {"domain": [19103, 30855], "reverse": true, "nice": false, "zero": false}, "title": null},
                 "y": {"datum": 0, "type": "quantitative", "scale": {"domain": [-1.6, 1.52], "nice": false, "zero": false}, "axis": null}, "text": {"field": "label"}}},
   {"transform": [{"filter": "datum.kind === 'label' && datum.type === 'boundary'"}],
    "mark": {"type": "text", "align": "left", "baseline": "middle", "fontSize": 20, "color": "#1a1a1a"},
    "encoding": {"x": {"datum": 30433, "type": "quantitative", "scale": {"domain": [19103, 30855], "reverse": true, "nice": false, "zero": false}, "title": null},
                 "y": {"datum": 0, "type": "quantitative", "scale": {"domain": [-1.6, 1.52], "nice": false, "zero": false}, "axis": null}, "text": {"field": "label"}}},
   {"transform": [{"filter": "datum.kind === 'label' && datum.type === 'phase'"}],
    "mark": {"type": "text", "align": "left", "baseline": "middle", "fontSize": 20, "color": "#1a1a1a"},
    "encoding": {"x": {"datum": 30433, "type": "quantitative", "scale": {"domain": [19103, 30855], "reverse": true, "nice": false, "zero": false}, "title": null},
                 "y": {"datum": -0.2, "type": "quantitative", "scale": {"domain": [-1.6, 1.52], "nice": false, "zero": false}, "axis": null}, "text": {"field": "label"}}},
   {"transform": [{"filter": "datum.kind === 'label' && datum.type === 'model'"}],
    "mark": {"type": "text", "align": "left", "baseline": "middle", "fontSize": 20, "color": "#1a1a1a"},
    "encoding": {"x": {"datum": 30672, "type": "quantitative", "scale": {"domain": [19103, 30855], "reverse": true, "nice": false, "zero": false}, "title": null},
                 "y": {"datum": -0.2, "type": "quantitative", "scale": {"domain": [-1.6, 1.52], "nice": false, "zero": false}, "axis": null}, "text": {"field": "label"}}},
   {"transform": [{"filter": "datum.kind === 'label' && (datum.group === 'Solutrense' || datum.group === 'Presolutrense')"}],
    "mark": {"type": "rule", "color": "#8d8d8d", "strokeWidth": 2},
    "encoding": {"x": {"datum": 30485, "type": "quantitative", "scale": {"domain": [19103, 30855], "reverse": true, "nice": false, "zero": false}, "title": null}}},
   {"transform": [{"filter": "datum.kind === 'label' && (datum.group === 'Solutrense' || datum.group === 'Presolutrense')"}],
    "mark": {"type": "rule", "color": "#8d8d8d", "strokeWidth": 2},
    "encoding": {"x": {"datum": 19435, "type": "quantitative", "scale": {"domain": [19103, 30855], "reverse": true, "nice": false, "zero": false}, "title": null}}},
   {"transform": [{"filter": "datum.kind === 'label'"}],
    "mark": {"type": "rule", "color": "#9a9a9a", "strokeWidth": 2},
    "encoding": {"x": {"datum": 30730, "type": "quantitative", "scale": {"domain": [19103, 30855], "reverse": true, "nice": false, "zero": false}, "title": null}}},
   {"transform": [{"filter": "datum.kind === 'label'"}],
    "mark": {"type": "rule", "color": "#9a9a9a", "strokeWidth": 2},
    "encoding": {"x": {"datum": 19230, "type": "quantitative", "scale": {"domain": [19103, 30855], "reverse": true, "nice": false, "zero": false}, "title": null}}},
   {"transform": [{"filter": "datum.kind === 'label' && datum.row === 1"}],
    "mark": {"type": "rule", "color": "#8d8d8d", "strokeWidth": 2},
    "encoding": {"x": {"datum": 30730, "type": "quantitative", "scale": {"domain": [19103, 30855], "reverse": true, "nice": false, "zero": false}, "title": null}, "x2": {"datum": 19230},
                 "y": {"datum": 1.3, "type": "quantitative", "scale": {"domain": [-1.6, 1.52], "nice": false, "zero": false}, "axis": null}}},
   {"transform": [{"filter": "datum.kind === 'label' && datum.row === 23"}],
    "mark": {"type": "rule", "color": "#8d8d8d", "strokeWidth": 2},
    "encoding": {"x": {"datum": 30485, "type": "quantitative", "scale": {"domain": [19103, 30855], "reverse": true, "nice": false, "zero": false}, "title": null}, "x2": {"datum": 19435},
                 "y": {"datum": 1.3, "type": "quantitative", "scale": {"domain": [-1.6, 1.52], "nice": false, "zero": false}, "axis": null}}},
   {"transform": [{"filter": "datum.kind === 'label' && datum.type === 'phase'"}],
    "mark": {"type": "rule", "color": "#8d8d8d", "strokeWidth": 2},
    "encoding": {"x": {"datum": 30485, "type": "quantitative", "scale": {"domain": [19103, 30855], "reverse": true, "nice": false, "zero": false}, "title": null}, "x2": {"datum": 19435},
                 "y": {"datum": -1.5, "type": "quantitative", "scale": {"domain": [-1.6, 1.52], "nice": false, "zero": false}, "axis": null}}},
   {"transform": [{"filter": "datum.kind === 'label' && datum.type === 'model'"}],
    "mark": {"type": "rule", "color": "#9a9a9a", "strokeWidth": 2},
    "encoding": {"x": {"datum": 30730, "type": "quantitative", "scale": {"domain": [19103, 30855], "reverse": true, "nice": false, "zero": false}, "title": null}, "x2": {"datum": 19230},
                 "y": {"datum": -1.5, "type": "quantitative", "scale": {"domain": [-1.6, 1.52], "nice": false, "zero": false}, "axis": null}}},
   {"transform": [{"filter": "datum.kind === 'label'"}],
    "mark": {"type": "rule", "color": "#5a5a5a", "strokeWidth": 3},
    "encoding": {"x": {"datum": 30855, "type": "quantitative", "scale": {"domain": [19103, 30855], "reverse": true, "nice": false, "zero": false}, "title": null}}},
   {"transform": [{"filter": "datum.kind === 'label'"}],
    "mark": {"type": "rule", "color": "#5a5a5a", "strokeWidth": 3},
    "encoding": {"x": {"datum": 19103, "type": "quantitative", "scale": {"domain": [19103, 30855], "reverse": true, "nice": false, "zero": false}, "title": null}}}
  ]
 }
},
{
 "width": 849, "height": 15,
 "data": {"values": [{"edge": 30855}, {"edge": 19103}]},
 "mark": {"type": "rule", "color": "#5a5a5a", "strokeWidth": 3},
 "encoding": {"x": {"field": "edge", "type": "quantitative", "scale": {"domain": [19103, 30855], "reverse": true, "nice": false, "zero": false}, "title": "Modelled date (BP)",
     "axis": {"values": [20000, 22000, 24000, 26000, 28000, 30000], "format": "d",
       "grid": true, "labels": true, "ticks": false,
       "domain": true, "domainColor": "#111", "domainWidth": 2.5,
       "labelFontSize": 20, "labelColor": "#222", "labelPadding": 5, "labelOverlap": false, "labelFlush": false,
       "titleFontSize": 20, "titleFontWeight": "normal", "titleColor": "#222", "titlePadding": 26}}}
}
]
}
